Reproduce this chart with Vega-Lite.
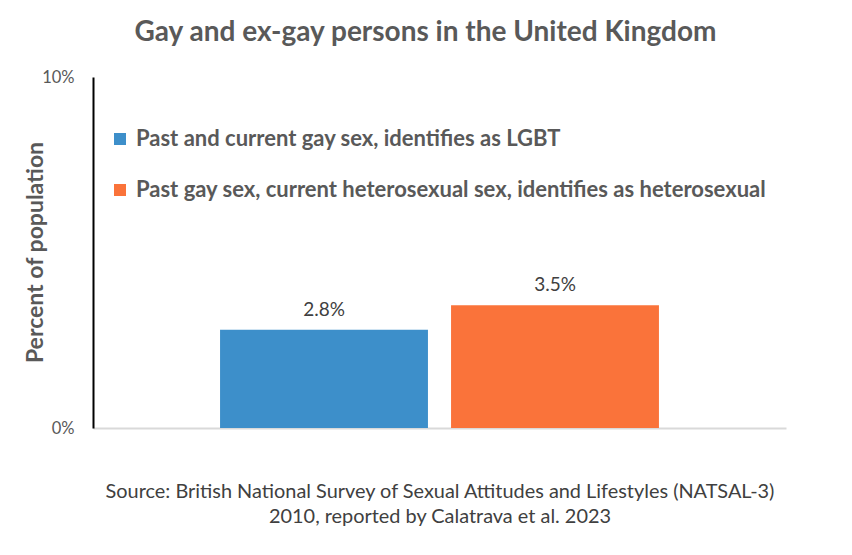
{
  "$schema": "https://vega.github.io/schema/vega-lite/v6.json",
  "autosize": {"type": "none"},
  "width": 693,
  "height": 351,
  "padding": {"left": 93, "top": 77, "right": 66, "bottom": 127},
  "background": "white",
  "config": {
    "view": {"stroke": "transparent"},
    "font": "Lato"
  },
  "title": {
    "text": "Gay and ex-gay persons in the United Kingdom",
    "fontSize": 28,
    "fontWeight": "bold",
    "color": "#595959",
    "anchor": "middle",
    "dx": -14,
    "offset": 22
  },
  "data": {
    "values": [
      {"series": "Past and current gay sex, identifies as LGBT", "share": 0.028},
      {"series": "Past gay sex, current heterosexual sex, identifies as heterosexual", "share": 0.035}
    ]
  },
  "encoding": {
    "x": {
      "field": "series",
      "type": "nominal",
      "sort": null,
      "scale": {"paddingInner": 0.1, "paddingOuter": 0.55},
      "axis": {
        "labels": false,
        "ticks": false,
        "domainColor": "#d9d9d9",
        "domainWidth": 2,
        "title": [
          "Source: British National Survey of Sexual Attitudes and Lifestyles (NATSAL-3)",
          "2010, reported by Calatrava et al. 2023"
        ],
        "titleFontSize": 19.9,
        "titleFontWeight": "normal",
        "titleColor": "#404040",
        "titleLineHeight": 25,
        "titlePadding": 53
      }
    },
    "y": {
      "field": "share",
      "type": "quantitative",
      "scale": {"domain": [0, 0.1]},
      "axis": {
        "values": [0, 0.1],
        "format": ".0%",
        "grid": false,
        "ticks": false,
        "domainColor": "#000000",
        "domainWidth": 2,
        "labelFontSize": 16.5,
        "labelColor": "#595959",
        "labelPadding": 19,
        "title": "Percent of population",
        "titleFontSize": 23,
        "titleFontWeight": "bold",
        "titleColor": "#595959",
        "titleX": -58,
        "titleY": 175,
        "titleAlign": "center",
        "titleBaseline": "middle",
        "titleAngle": -90
      }
    }
  },
  "layer": [
    {
      "mark": {"type": "bar"},
      "encoding": {
        "color": {
          "field": "series",
          "type": "nominal",
          "sort": null,
          "scale": {"range": ["#3d8fca", "#fa733a"]},
          "legend": {
            "title": null,
            "orient": "none",
            "legendX": 16,
            "legendY": 51,
            "symbolType": "square",
            "symbolSize": 144,
            "symbolStrokeWidth": 0,
            "labelFontSize": 22,
            "labelFontWeight": "bold",
            "labelColor": "#595959",
            "labelLimit": 720,
            "labelOffset": 5,
            "rowPadding": 29
          }
        }
      }
    },
    {
      "mark": {
        "type": "text",
        "baseline": "bottom",
        "dy": -10,
        "fontSize": 19,
        "color": "#404040"
      },
      "encoding": {
        "text": {"field": "share", "type": "quantitative", "format": ".1%"}
      }
    }
  ]
}
